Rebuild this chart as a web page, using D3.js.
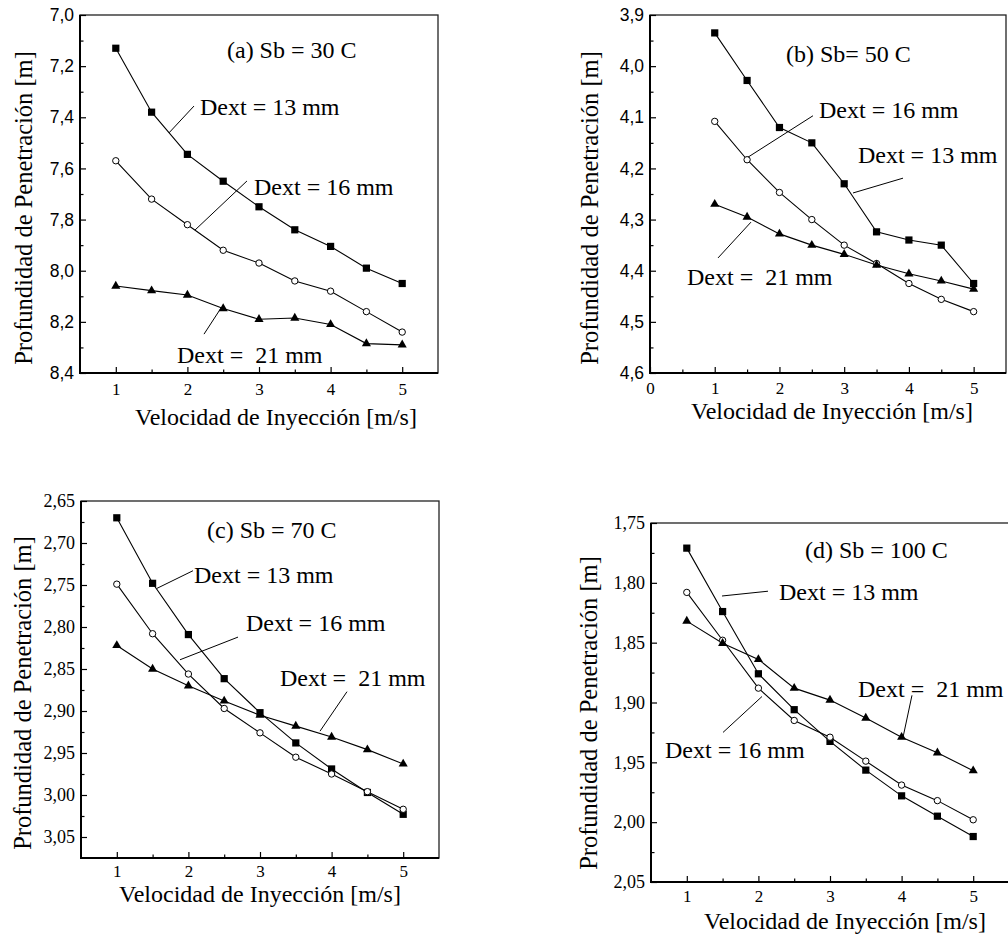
<!DOCTYPE html>
<html>
<head>
<meta charset="utf-8">
<script src="https://cdn.jsdelivr.net/npm/d3@7"></script>
<style>
html,body{margin:0;padding:0;background:#fff;}
svg{display:block;}
svg text{font-family:"Liberation Serif","Times New Roman",Times,"DejaVu Serif",serif;fill:#000;}
svg text.sans{font-family:"Liberation Sans",Arial,Helvetica,"DejaVu Sans",sans-serif;}
</style>
</head>
<body>
<svg id="chart" width="1008" height="937"></svg>
<script>
// ---------------- DATA ----------------
const speeds = [1, 1.5, 2, 2.5, 3, 3.5, 4, 4.5, 5];
const seriesLabels = ["Dext = 13 mm", "Dext = 16 mm", "Dext =  21 mm"];
const panelTitles = ["(a) Sb = 30 C", "(b) Sb= 50 C", "(c) Sb = 70 C", "(d) Sb = 100 C"];
const xAxisTitle = "Velocidad de Inyección [m/s]";
const yAxisTitle = "Profundidad de Penetración [m]";

// (a) Sb = 30 C
const a13 = [7.13, 7.38, 7.545, 7.65, 7.75, 7.84, 7.905, 7.99, 8.05];
const a16 = [7.57, 7.72, 7.82, 7.92, 7.97, 8.04, 8.08, 8.16, 8.24];
const a21 = [8.06, 8.078, 8.095, 8.148, 8.19, 8.185, 8.21, 8.285, 8.29];
// (b) Sb = 50 C
const b13 = [3.935, 4.028, 4.12, 4.15, 4.23, 4.324, 4.34, 4.35, 4.425];
const b16 = [4.108, 4.183, 4.247, 4.30, 4.35, 4.386, 4.425, 4.456, 4.48];
const b21 = [4.27, 4.295, 4.328, 4.35, 4.368, 4.389, 4.406, 4.42, 4.436];
// (c) Sb = 70 C
const c13 = [2.670, 2.748, 2.809, 2.8615, 2.902, 2.938, 2.969, 2.997, 3.023];
const c16 = [2.749, 2.808, 2.856, 2.897, 2.926, 2.955, 2.975, 2.996, 3.017];
const c21 = [2.822, 2.850, 2.870, 2.888, 2.905, 2.918, 2.931, 2.946, 2.963];
// (d) Sb = 100 C
const d13 = [1.771, 1.824, 1.876, 1.906, 1.9325, 1.9565, 1.978, 1.995, 2.012];
const d16 = [1.808, 1.848, 1.888, 1.915, 1.929, 1.949, 1.969, 1.982, 1.998];
const d21 = [1.832, 1.8505, 1.864, 1.888, 1.898, 1.913, 1.929, 1.942, 1.957];

// tick values
const xMajorA = [1, 2, 3, 4, 5];
const xMinorA = [1.5, 2.5, 3.5, 4.5];
const xMajorB = [0, 1, 2, 3, 4, 5];
const xMinorB = [0.5, 1.5, 2.5, 3.5, 4.5];
const yMajorA = [7.0, 7.2, 7.4, 7.6, 7.8, 8.0, 8.2, 8.4];
const yMinorA = [7.1, 7.3, 7.5, 7.7, 7.9, 8.1, 8.3];
const yMajorB = [3.9, 4.0, 4.1, 4.2, 4.3, 4.4, 4.5, 4.6];
const yMinorB = [3.95, 4.05, 4.15, 4.25, 4.35, 4.45, 4.55];
const yMajorC = [2.65, 2.70, 2.75, 2.80, 2.85, 2.90, 2.95, 3.00, 3.05];
const yMinorC = [2.675, 2.725, 2.775, 2.825, 2.875, 2.925, 2.975, 3.025];
const yMajorD = [1.75, 1.80, 1.85, 1.90, 1.95, 2.00, 2.05];
const yMinorD = [1.775, 1.825, 1.875, 1.925, 1.975, 2.025];

// annotations in data units: [label index, text x, text y, leader x1, y1, x2, y2]
const notesA = [[0, 2.176, 7.391, 2.092, 7.356, 1.743, 7.461],
                [1, 2.930, 7.704, 2.832, 7.649, 2.106, 7.841],
                [2, 1.855, 8.361, 2.232, 8.248, 2.469, 8.146]];
const notesB = [[1, 2.611, 4.101, 2.518, 4.097, 1.514, 4.178],
                [0, 3.213, 4.189, 3.909, 4.219, 3.136, 4.248],
                [2, 0.572, 4.428, 1.051, 4.375, 1.560, 4.305]];
const notesC = [[0, 2.078, 2.748, 2.064, 2.733, 1.561, 2.754],
                [1, 2.804, 2.805, 2.693, 2.812, 1.883, 2.839],
                [2, 3.279, 2.870, 4.215, 2.877, 3.838, 2.924]];
const notesD = [[0, 2.288, 1.814, 2.134, 1.807, 1.492, 1.811],
                [2, 3.391, 1.895, 4.145, 1.894, 4.020, 1.929],
                [1, 0.696, 1.946, 1.506, 1.925, 2.050, 1.895]];
const titlePos = [[2.553, 7.168], [2.101, 3.992], [2.260, 2.694], [2.651, 1.779]];

// ---------------- LAYOUT ----------------
const panels = [
  {series: [a13, a16, a21], notes: notesA, box: [80, 438, 15, 373], xd: [0.5, 5.5], yd: [7.0, 8.4],
   xMaj: xMajorA, xMin: xMinorA, yMaj: yMajorA, yMin: yMinorA, yFmt: ",.1f", ySans: true,
   xPad: 10, xLab: [276, 425], yLab: [32, 208]},
  {series: [b13, b16, b21], notes: notesB, box: [650, 1006, 15, 373], xd: [0, 5.5], yd: [3.9, 4.6],
   xMaj: xMajorB, xMin: xMinorB, yMaj: yMajorB, yMin: yMinorB, yFmt: ",.1f", ySans: true,
   xPad: 9, xLab: [832, 419], yLab: [598, 208]},
  {series: [c13, c16, c21], notes: notesC, box: [81, 439, 501, 858], xd: [0.5, 5.5], yd: [2.65, 3.075],
   xMaj: xMajorA, xMin: xMinorA, yMaj: yMajorC, yMin: yMinorC, yFmt: ",.2f", ySans: false,
   xPad: 7, xLab: [260, 902], yLab: [31, 693]},
  {series: [d13, d16, d21], notes: notesD, box: [651, 1009, 523, 882], xd: [0.5, 5.5], yd: [1.75, 2.05],
   xMaj: xMajorA, xMin: xMinorA, yMaj: yMajorD, yMin: yMinorD, yFmt: ",.2f", ySans: false,
   xPad: 8, xLab: [845, 929], yLab: [597, 713]}
];

const svg = d3.select("#chart");
const commaFmt = f => v => d3.format(f)(v).replace(".", ",");

panels.forEach((p, pi) => {
  const [L, R, T, B] = p.box;
  const x = d3.scaleLinear().domain(p.xd).range([L, R]);
  const y = d3.scaleLinear().domain(p.yd).range([T, B]);
  const g = svg.append("g");

  // frame (top/right)
  g.append("rect").attr("x", L).attr("y", T).attr("width", R - L).attr("height", B - T)
    .attr("fill", "none").attr("stroke", "#222").attr("stroke-width", 1.3);

  // bottom axis major
  const xAx = g.append("g").attr("transform", `translate(0,${B})`)
    .call(d3.axisBottom(x).tickValues(p.xMaj).tickSize(-6).tickPadding(p.xPad).tickFormat(d3.format("d")));
  xAx.attr("font-family", null).attr("font-size", null);
  xAx.select(".domain").remove();
  xAx.selectAll("line").attr("stroke", "#000").attr("stroke-width", 1.2);
  xAx.selectAll("text").style("font-size", "17px").attr("fill", "#000");
  // bottom minor
  const xAm = g.append("g").attr("transform", `translate(0,${B})`)
    .call(d3.axisBottom(x).tickValues(p.xMin).tickSize(-3.5).tickFormat(""));
  xAm.select(".domain").remove();
  xAm.selectAll("line").attr("stroke", "#000").attr("stroke-width", 1.2);

  // left axis major
  const yAx = g.append("g").attr("transform", `translate(${L},0)`)
    .call(d3.axisLeft(y).tickValues(p.yMaj).tickSize(-6).tickPadding(6).tickFormat(commaFmt(p.yFmt)));
  yAx.attr("font-family", null).attr("font-size", null);
  yAx.select(".domain").remove();
  yAx.selectAll("line").attr("stroke", "#000").attr("stroke-width", 1.2);
  yAx.selectAll("text").classed("sans", p.ySans)
    .style("font-size", p.ySans ? "17.5px" : "18px").attr("fill", "#000");
  const yAm = g.append("g").attr("transform", `translate(${L},0)`)
    .call(d3.axisLeft(y).tickValues(p.yMin).tickSize(-3.5).tickFormat(""));
  yAm.select(".domain").remove();
  yAm.selectAll("line").attr("stroke", "#000").attr("stroke-width", 1.2);

  // axis lines (thicker left/bottom)
  g.append("line").attr("x1", L).attr("x2", L).attr("y1", T).attr("y2", B + 1)
    .attr("stroke", "#000").attr("stroke-width", 2);
  g.append("line").attr("x1", L - 1).attr("x2", R).attr("y1", B).attr("y2", B)
    .attr("stroke", "#000").attr("stroke-width", 2);

  // axis titles
  g.append("text").attr("x", p.xLab[0]).attr("y", p.xLab[1]).attr("text-anchor", "middle")
    .style("font-size", "24px").text(xAxisTitle);
  g.append("text").attr("transform", `translate(${p.yLab[0]},${p.yLab[1]}) rotate(-90)`)
    .attr("text-anchor", "middle").style("font-size", "24.5px").text(yAxisTitle);

  // series lines
  const line = d3.line().x((d, i) => x(speeds[i])).y(d => y(d));
  p.series.forEach(s => {
    g.append("path").datum(s).attr("d", line).attr("fill", "none")
      .attr("stroke", "#000").attr("stroke-width", 1.1);
  });

  // markers
  const sq = d3.symbol().type(d3.symbolSquare).size(52);
  const tri = d3.symbol().type(d3.symbolTriangle).size(36);
  g.append("g").selectAll("path").data(p.series[0]).join("path")
    .attr("d", sq).attr("transform", (d, i) => `translate(${x(speeds[i])},${y(d)})`).attr("fill", "#000");
  g.append("g").selectAll("circle").data(p.series[1]).join("circle")
    .attr("cx", (d, i) => x(speeds[i])).attr("cy", d => y(d)).attr("r", 3.2)
    .attr("fill", "#fff").attr("stroke", "#000").attr("stroke-width", 1);
  g.append("g").selectAll("path").data(p.series[2]).join("path")
    .attr("d", tri).attr("transform", (d, i) => `translate(${x(speeds[i])},${y(d)})`).attr("fill", "#000");

  // title
  g.append("text").attr("x", x(titlePos[pi][0])).attr("y", y(titlePos[pi][1]))
    .style("font-size", "24px").style("white-space", "pre").text(panelTitles[pi]);

  // annotations
  p.notes.forEach(n => {
    g.append("line").attr("x1", x(n[3])).attr("y1", y(n[4])).attr("x2", x(n[5])).attr("y2", y(n[6]))
      .attr("stroke", "#000").attr("stroke-width", 1);
    g.append("text").attr("x", x(n[1])).attr("y", y(n[2]))
      .style("font-size", "24px").style("white-space", "pre").text(seriesLabels[n[0]]);
  });
});
</script>
</body>
</html>
